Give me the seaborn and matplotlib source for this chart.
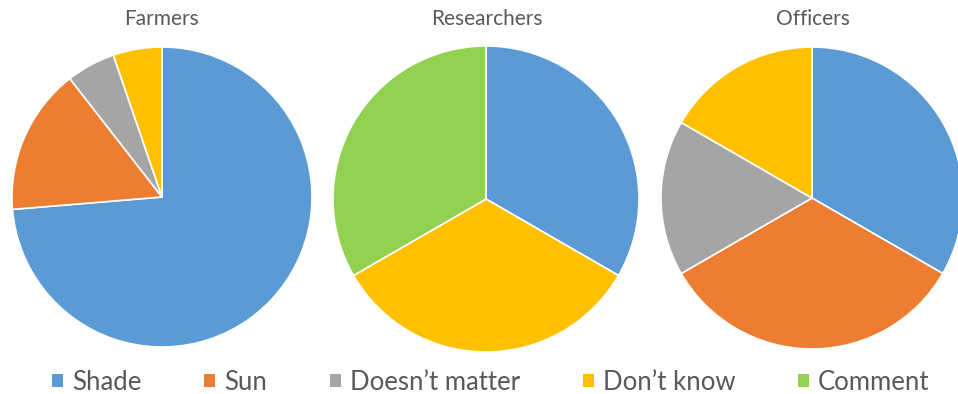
import matplotlib
matplotlib.use("Agg")
import matplotlib.pyplot as plt
from matplotlib.patches import Patch
import seaborn as sns

sns.set_theme(style="white")
plt.rcParams['font.family'] = ['Lato', 'DejaVu Sans']

categories = ["Shade", "Sun", "Doesn\u2019t matter", "Don\u2019t know", "Comment"]
colors = ["#5B9BD5", "#ED7D31", "#A5A5A5", "#FFC000", "#92D050"]
groups = ["Farmers", "Researchers", "Officers"]
farmers = [14, 3, 1, 1, 0]
researchers = [1, 0, 0, 1, 1]
officers = [2, 2, 1, 1, 0]
values = [farmers, researchers, officers]

W, H = 958, 394
fig = plt.figure(figsize=(W / 100, H / 100), dpi=100)

# (center x, center y, radius) in pixels
geo = [(162, 197, 150), (486, 199, 153), (812, 198, 151)]
title_x = [162, 487, 813]

for (cx, cy, r), tx, name, vals in zip(geo, title_x, groups, values):
    ax = fig.add_axes([(cx - r) / W, (H - cy - r) / H, 2 * r / W, 2 * r / H])
    pv = [v for v in vals if v > 0]
    pc = [c for v, c in zip(vals, colors) if v > 0]
    ax.pie(pv, colors=pc, startangle=90, counterclock=False, radius=1,
           wedgeprops=dict(edgecolor="white", linewidth=1.2))
    ax.set_xlim(-1, 1)
    ax.set_ylim(-1, 1)
    ax.set_aspect("equal")
    ax.axis("off")
    fig.text(tx / W, 1 - 19 / H, name, ha="center", va="center",
             fontsize=15, color="#595959")

handles = [Patch(facecolor=c, edgecolor="none", label=l) for c, l in zip(colors, categories)]
fig.legend(handles=handles, loc="center", bbox_to_anchor=(491 / W, 1 - 382 / H), ncol=5,
           frameon=False, fontsize=18.5, labelcolor="#595959",
           handlelength=0.42, handleheight=0.42, handletextpad=0.35, columnspacing=2.45)

fig.savefig("out.png", dpi=100, facecolor="white")
